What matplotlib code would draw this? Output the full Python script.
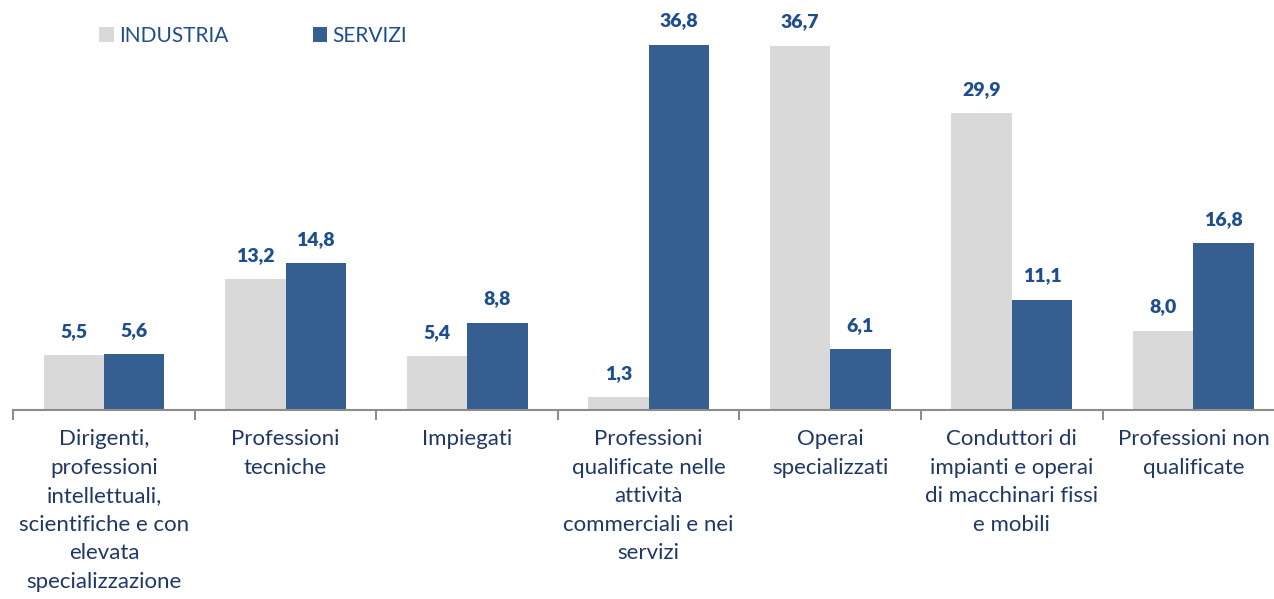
import matplotlib
matplotlib.use("Agg")
import matplotlib.pyplot as plt
import numpy as np

categories = [
    "Dirigenti,\nprofessioni\nintellettuali,\nscientifiche e con\nelevata\nspecializzazione",
    "Professioni\ntecniche",
    "Impiegati",
    "Professioni\nqualificate nelle\nattività\ncommerciali e nei\nservizi",
    "Operai\nspecializzati",
    "Conduttori di\nimpianti e operai\ndi macchinari fissi\ne mobili",
    "Professioni non\nqualificate",
]
industria = [5.5, 13.2, 5.4, 1.3, 36.7, 29.9, 8.0]
servizi = [5.6, 14.8, 8.8, 36.8, 6.1, 11.1, 16.8]
series_names = ["INDUSTRIA", "SERVIZI"]

c_ind = "#D9D9D9"
c_ser = "#365F91"
c_txt = "#1F4E8C"
c_lab = "#1F3864"

plt.rcParams['font.family'] = ['Lato', 'DejaVu Sans']

fig = plt.figure(figsize=(12.74, 5.99), dpi=100)
ax = fig.add_axes([13.2/1274, (599-410)/599, 1271/1274, 410/599])

x = np.arange(len(categories))
w = 0.333
b1 = ax.bar(x - w/2, industria, width=w, color=c_ind, label=series_names[0])
b2 = ax.bar(x + w/2, servizi, width=w, color=c_ser, label=series_names[1])

for bars, vals in ((b1, industria), (b2, servizi)):
    for r, v in zip(bars, vals):
        ax.annotate(f"{v:.1f}".replace(".", ","), (r.get_x() + r.get_width()/2, v),
                    xytext=(0, 11), textcoords="offset points", ha="center", va="bottom",
                    fontsize=14, fontweight="heavy", color=c_txt)

ax.set_xlim(-0.5, len(categories) - 0.5)
ax.set_ylim(0, 41.3)
ax.set_yticks([])
for s in ("left", "right", "top"):
    ax.spines[s].set_visible(False)
ax.spines["bottom"].set_color("#8C8C8C")
ax.spines["bottom"].set_linewidth(1.5)

ax.set_xticks(np.arange(len(categories) + 1) - 0.5, minor=False)
ax.set_xticklabels([])
ax.tick_params(axis="x", length=7, width=1.5, color="#8C8C8C", direction="out")
ax.set_xticks(x, minor=True)
ax.set_xticklabels(categories, minor=True, fontsize=16, color=c_lab, linespacing=1.53, va="top")
ax.tick_params(axis="x", which="minor", length=0, pad=14)

leg = ax.legend(loc="center left", bbox_to_anchor=(99/1274, 1 - 36/599),
                bbox_transform=fig.transFigure, ncol=2, frameon=False,
                fontsize=15, handlelength=0.7, handleheight=0.7, columnspacing=4.05,
                handletextpad=0.25, borderaxespad=0, borderpad=0)
for t in leg.get_texts():
    t.set_color(c_txt)

fig.savefig("out.png", dpi=100)
